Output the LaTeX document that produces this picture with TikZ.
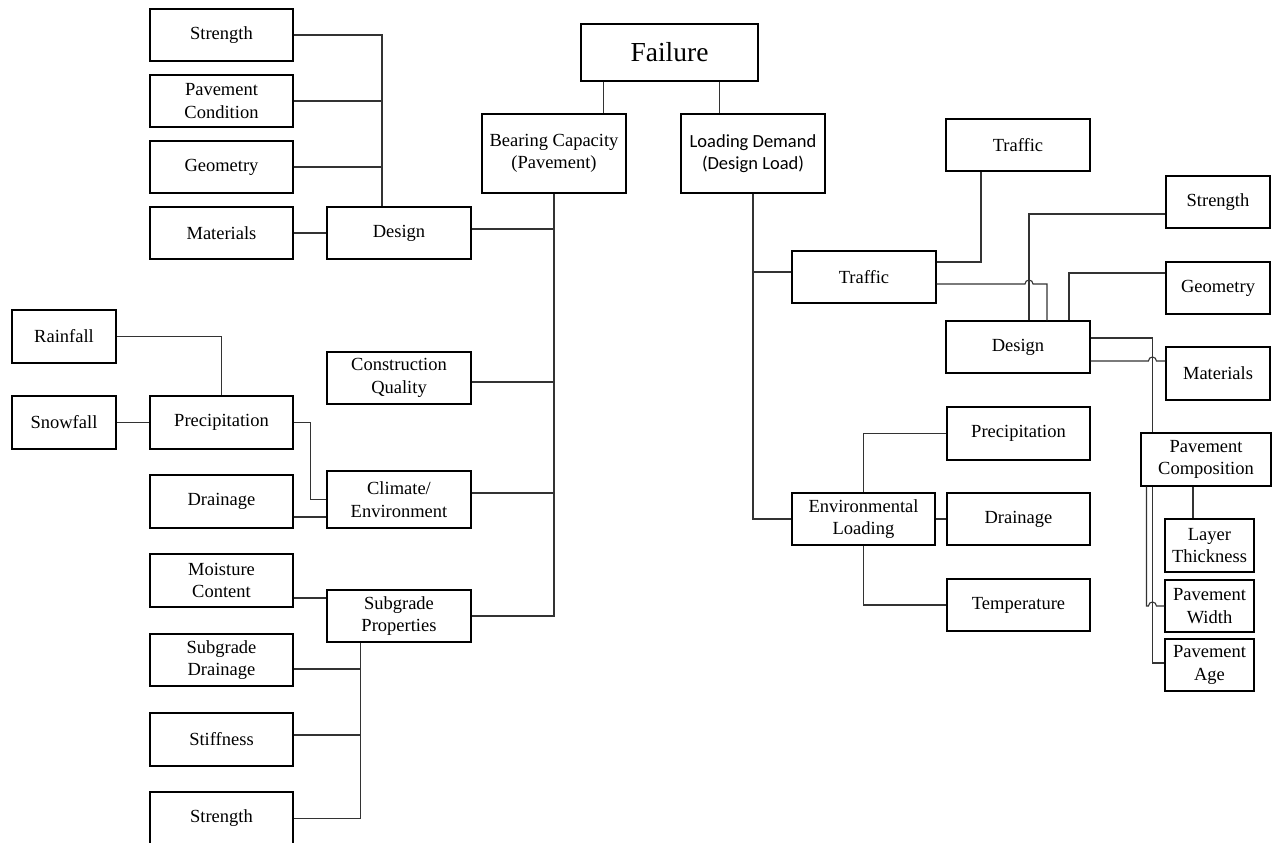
\documentclass[tikz,border=0pt]{standalone}
\usepackage{fontspec}
\setmainfont{Liberation Serif}
\newfontfamily\calib{Carlito}
\usetikzlibrary{calc}
\tikzset{
  blk/.style={draw=black, line width=1.1pt, fill=white, align=center, inner sep=0pt,
              font=\fontsize{18.5}{22.5}\selectfont},
  sz/.style n args={2}{minimum width=#1pt, minimum height=#2pt},
  wire/.style={draw=black!80, line width=1.1pt},
}
\newcommand{\hop}{arc[start angle=180, end angle=0, radius=4pt]}
\begin{document}
\begin{tikzpicture}[x=1pt, y=-1pt]
\useasboundingbox (0,0) rectangle (1275,843);
\clip (0,0) rectangle (1275,843);

% top level
\node[blk, sz={177}{57}, font=\fontsize{27.5}{30}\selectfont] (fail) at (669.5,52.5) {Failure};
\node[blk, sz={144}{79}] (bc) at (554,153.5) {Bearing Capacity\\(Pavement)};
\node[blk, sz={144}{79}, font=\calib\fontsize{18.5}{22.5}\selectfont] (ld) at (753,153.5) {Loading Demand\\(Design Load)};

% bearing capacity side
\node[blk, sz={143}{52}] (s1)   at (221.5,35)  {Strength};
\node[blk, sz={143}{52}] (pc)   at (221.5,101) {Pavement\\Condition};
\node[blk, sz={143}{52}] (geo)  at (221.5,167) {Geometry};
\node[blk, sz={143}{52}] (mat)  at (221.5,233) {Materials};
\node[blk, sz={144}{52}] (des)  at (399,233)   {Design};
\node[blk, sz={144}{52}] (cq)   at (399,378)   {Construction\\Quality};
\node[blk, sz={144}{57}] (clim) at (399,499.5) {Climate/\\Environment};
\node[blk, sz={144}{52}] (sub)  at (399,616)   {Subgrade\\Properties};
\node[blk, sz={104}{53}] (rain) at (64,336.5)  {Rainfall};
\node[blk, sz={104}{53}] (snow) at (64,422.5)  {Snowfall};
\node[blk, sz={143}{53}] (prec) at (221.5,422.5) {Precipitation};
\node[blk, sz={143}{53}] (drain) at (221.5,501.5) {Drainage};
\node[blk, sz={143}{53}] (moist) at (221.5,580.5) {Moisture\\Content};
\node[blk, sz={143}{52}] (sdrain) at (221.5,660) {Subgrade\\Drainage};
\node[blk, sz={143}{53}] (stiff) at (221.5,739.5) {Stiffness};
\node[blk, sz={143}{53}] (s2)   at (221.5,818.5) {Strength};

% loading demand side
\node[blk, sz={144}{52}] (tr)    at (864,277)    {Traffic};
\node[blk, sz={144}{52}] (trt)   at (1018,145)   {Traffic};
\node[blk, sz={144}{52}] (ds)    at (1018,347)   {Design};
\node[blk, sz={104}{52}] (str)   at (1218,202)   {Strength};
\node[blk, sz={104}{52}] (geo2)  at (1218,288)   {Geometry};
\node[blk, sz={104}{53}] (mat2)  at (1218,373.5) {Materials};
\node[blk, sz={130}{53}] (pcomp) at (1206,459.5) {Pavement\\Composition};
\node[blk, sz={89}{53}]  (lt)    at (1209.5,545.5) {Layer\\Thickness};
\node[blk, sz={89}{52}]  (pw)    at (1209.5,606) {Pavement\\Width};
\node[blk, sz={89}{52}]  (pa)    at (1209.5,665) {Pavement\\Age};
\node[blk, sz={143}{52}] (env)   at (863.5,519)  {Environmental\\Loading};
\node[blk, sz={143}{53}] (prec2) at (1018.5,433.5) {Precipitation};
\node[blk, sz={143}{52}] (drain2) at (1018.5,519) {Drainage};
\node[blk, sz={143}{52}] (temp)  at (1018.5,605) {Temperature};

% attachment points
\coordinate (f1) at ([xshift=23pt]fail.south west);
\coordinate (f2) at ([xshift=-39pt]fail.south east);
\coordinate (dtop) at ([xshift=-17pt]des.north);
\coordinate (d1) at ([yshift=4pt]des.east);
\coordinate (c1) at ([yshift=-4pt]cq.east);
\coordinate (c2) at ([yshift=6.5pt]clim.east);
\coordinate (dr1) at ([yshift=-15.5pt]drain.east);
\coordinate (m1) at ([yshift=-17.5pt]moist.east);
\coordinate (sbus) at ([xshift=34pt]sub.south west);
\coordinate (sd1) at ([yshift=-9pt]sdrain.east);
\coordinate (st1) at ([yshift=4.5pt]stiff.east);
\coordinate (t0) at ([yshift=5pt]tr.west);
\coordinate (t1) at ([yshift=15pt]tr.east);
\coordinate (t2) at ([yshift=-7pt]tr.east);
\coordinate (trA) at ([xshift=-37pt]trt.south);
\coordinate (dsA) at ([xshift=11pt]ds.north);
\coordinate (dsB) at ([xshift=29pt]ds.north);
\coordinate (dsC) at ([xshift=51pt]ds.north);
\coordinate (d4) at ([yshift=9pt]ds.east);
\coordinate (d5) at ([yshift=-14pt]ds.east);
\coordinate (pcA) at ([xshift=12pt]pcomp.north west);
\coordinate (pcB) at ([xshift=6pt]pcomp.south west);
\coordinate (pcC) at ([xshift=12pt]pcomp.south west);
\coordinate (pcD) at ([xshift=-13pt]pcomp.south);

% failure
\draw[wire] (f1) -- (f1 |- bc.north);
\draw[wire] (f2) -- (f2 |- ld.north);

% bearing capacity branches
\draw[wire] (s1.east) -| (dtop);
\draw[wire] (pc.east) -- (pc.east -| dtop);
\draw[wire] (geo.east) -- (geo.east -| dtop);
\draw[wire] (mat.east) -- (des.west);
\draw[wire] (bc.south) |- (sub.east);
\draw[wire] (d1) -- (d1 -| bc.south);
\draw[wire] (c1) -- (c1 -| bc.south);
\draw[wire] (c2) -- (c2 -| bc.south);
\draw[wire] (rain.east) -| (prec.north);
\draw[wire] (snow.east) -- (prec.west);
\draw[wire] (prec.east) -- ++(17,0) |- (clim.west);
\draw[wire] (dr1) -- (dr1 -| clim.west);
\draw[wire] (m1) -- (m1 -| sub.west);
\draw[wire] (sbus) |- (s2.east);
\draw[wire] (sd1) -- (sd1 -| sbus);
\draw[wire] (st1) -- (st1 -| sbus);

% loading demand branches
\draw[wire] (ld.south) |- (env.west);
\draw[wire] (t0) -- (t0 -| ld.south);
\draw[wire] (t1) -| (trA);
\draw[wire] (t2) -- ($(dsA |- t2)+(-4pt,0)$) \hop -| (dsB);
\draw[wire] (dsA) |- ([yshift=-12pt]str.west);
\draw[wire] (dsC) |- ([yshift=15pt]geo2.west);
\draw[wire] (d4) -| (pcA);
\draw[wire] (d5) -- ($(pcA |- d5)+(-4pt,0)$) \hop -- (d5 -| mat2.west);
\draw[wire] (pcD) -- (pcD |- lt.north);
\draw[wire] (pcB) |- ($(pcC |- pw.west)+(-4pt,0)$) \hop -- (pw.west);
\draw[wire] (pcC) |- ([yshift=2pt]pa.west);
\draw[wire] (env.north) |- (prec2.west);
\draw[wire] (env.east) -- (drain2.west);
\draw[wire] (env.south) |- (temp.west);
\end{tikzpicture}
\end{document}
